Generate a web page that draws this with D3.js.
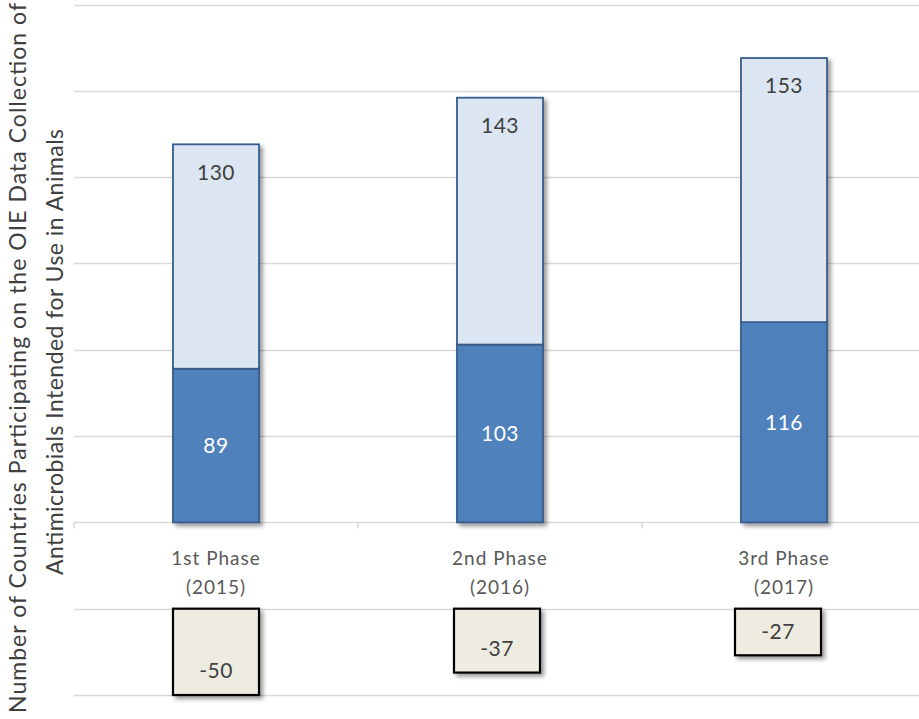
<!DOCTYPE html>
<html>
<head>
<meta charset="utf-8">
<script src="https://cdn.jsdelivr.net/npm/d3@7"></script>
<style>
  body { margin: 0; background: #fff; }
  svg { display: block; font-family: Lato, "Open Sans", sans-serif; }
</style>
</head>
<body>
<div id="chart"></div>
<script>
// data
var phases = ['1st Phase (2015)', '2nd Phase (2016)', '3rd Phase (2017)'];
var reported = [89, 103, 116];      // dark blue, bottom
var participating = [130, 143, 153]; // light blue, stacked on top
var notReporting = [-50, -37, -27];  // tan boxes under the axis
var gridTicks = [-100, -50, 0, 50, 100, 150, 200, 250, 300];

var width = 919;
var height = 719;

var svg = d3.select('#chart')
    .append('svg')
    .attr('width', width)
    .attr('height', height);

// drop shadow like excel
var defs = svg.append('defs');
var f = defs.append('filter')
    .attr('id', 'shadow')
    .attr('x', '-20%').attr('y', '-20%')
    .attr('width', '150%').attr('height', '150%');
f.append('feDropShadow')
    .attr('dx', 3).attr('dy', 3)
    .attr('stdDeviation', 2.2)
    .attr('flood-color', '#000')
    .attr('flood-opacity', 0.4);

var x = d3.scaleBand()
    .domain(phases)
    .range([74, 926])
    .padding(0);

var y = d3.scaleLinear()
    .domain([-100, 300])
    .range([695, 4.5]);

var barW = x.bandwidth() * 0.303;

//gridlines
svg.append('g')
    .attr('class', 'grid')
    .selectAll('line')
    .data(gridTicks)
    .enter()
    .append('line')
    .attr('x1', 74)
    .attr('x2', width)
    .attr('y1', function(d){ return Math.round(y(d)) + 0.5; })
    .attr('y2', function(d){ return Math.round(y(d)) + 0.5; })
    .style('stroke', '#d9d9d9')
    .style('stroke-width', 1.6);

// category tick marks under the zero line
var tickX = [74].concat(phases.map(function(p){ return x(p) + x.bandwidth(); }));
svg.append('g')
    .selectAll('line')
    .data(tickX)
    .enter()
    .append('line')
    .attr('x1', function(d){ return d; })
    .attr('x2', function(d){ return d; })
    .attr('y1', y(0))
    .attr('y2', y(0) + 6)
    .style('stroke', '#d9d9d9')
    .style('stroke-width', 1.6);

var rows = phases.map(function(p, i){
    return {phase: p, low: reported[i], high: participating[i], neg: notReporting[i]};
});

// one group per bar so the shadow is cast by the whole stack
var stacks = svg.append('g').attr('class', 'bars')
    .selectAll('g')
    .data(rows)
    .enter()
    .append('g')
    .attr('filter', 'url(#shadow)');

stacks.append('rect')
    .attr('class', 'low')
    .attr('x', function(d){ return x(d.phase) + (x.bandwidth() - barW) / 2; })
    .attr('y', function(d){ return y(d.low); })
    .attr('width', barW)
    .attr('height', function(d){ return y(0) - y(d.low); })
    .style('fill', '#4f81bd')
    .style('stroke', '#385d8a')
    .style('stroke-width', 1.8);

stacks.append('rect')
    .attr('class', 'high')
    .attr('x', function(d){ return x(d.phase) + (x.bandwidth() - barW) / 2; })
    .attr('y', function(d){ return y(d.low + d.high); })
    .attr('width', barW)
    .attr('height', function(d){ return y(d.low) - y(d.low + d.high); })
    .style('fill', '#dce6f2')
    .style('stroke', '#385d8a')
    .style('stroke-width', 1.8);

// value labels
var labels = svg.append('g').attr('class', 'labels');
labels.selectAll('.lowLabel')
    .data(rows)
    .enter()
    .append('text')
    .attr('x', function(d){ return x(d.phase) + x.bandwidth() / 2; })
    .attr('y', function(d){ return (y(0) + y(d.low)) / 2; })
    .attr('dy', '0.35em')
    .attr('text-anchor', 'middle')
    .style('font-size', '21px')
    .style('letter-spacing', '0.5px')
    .style('fill', '#fff')
    .text(function(d){ return d.low; });

labels.selectAll('.highLabel')
    .data(rows)
    .enter()
    .append('text')
    .attr('x', function(d){ return x(d.phase) + x.bandwidth() / 2; })
    .attr('y', function(d){ return y(d.low + d.high) + 28; })
    .attr('dy', '0.35em')
    .attr('text-anchor', 'middle')
    .style('font-size', '21px')
    .style('letter-spacing', '0.5px')
    .style('fill', '#404040')
    .text(function(d){ return d.high; });

// category labels, two lines each
var cats = svg.append('g').attr('class', 'cats');
cats.selectAll('text')
    .data(phases)
    .enter()
    .append('text')
    .attr('text-anchor', 'middle')
    .style('font-size', '19px')
    .style('letter-spacing', '1px')
    .style('fill', '#595959')
    .each(function(p){
        var parts = p.split(' (');
        var t = d3.select(this);
        t.append('tspan')
            .attr('x', x(p) + x.bandwidth() / 2)
            .attr('y', 565)
            .text(parts[0]);
        t.append('tspan')
            .attr('x', x(p) + x.bandwidth() / 2)
            .attr('y', 594)
            .text('(' + parts[1]);
    });

// tan boxes hanging from the -50 line
var box = svg.append('g').attr('class', 'boxes');
var boxX = d3.scalePoint()
    .domain(phases)
    .range([216, 778]);
var boxW = 86;

box.selectAll('rect')
    .data(rows)
    .enter()
    .append('rect')
    .attr('x', function(d){ return boxX(d.phase) - boxW / 2; })
    .attr('y', y(-50))
    .attr('width', boxW)
    .attr('height', function(d){ return y(-50 + d.neg) - y(-50); })
    .style('fill', '#eeece1')
    .style('stroke', '#000')
    .style('stroke-width', 2.2)
    .attr('filter', 'url(#shadow)');

box.selectAll('text')
    .data(rows)
    .enter()
    .append('text')
    .attr('x', function(d){ return boxX(d.phase); })
    .attr('y', function(d){ return y(-50 + d.neg) - 24; })
    .attr('dy', '0.35em')
    .attr('text-anchor', 'middle')
    .style('font-size', '21px')
    .style('letter-spacing', '0.5px')
    .style('fill', '#404040')
    .text(function(d){ return d.neg; });

// y axis title
var title = svg.append('text')
    .attr('transform', 'rotate(-90)')
    .attr('text-anchor', 'middle')
    .style('font-size', '23px')
    .style('fill', '#404040');
title.append('tspan')
    .attr('x', -358).attr('y', 26)
    .attr('textLength', 710)
    .attr('lengthAdjust', 'spacing')
    .text('Number  of Countries Participating on the OIE Data Collection of');
title.append('tspan')
    .attr('x', -352).attr('y', 63)
    .attr('textLength', 446)
    .attr('lengthAdjust', 'spacing')
    .text('Antimicrobials Intended for Use in Animals');
</script>
</body>
</html>
